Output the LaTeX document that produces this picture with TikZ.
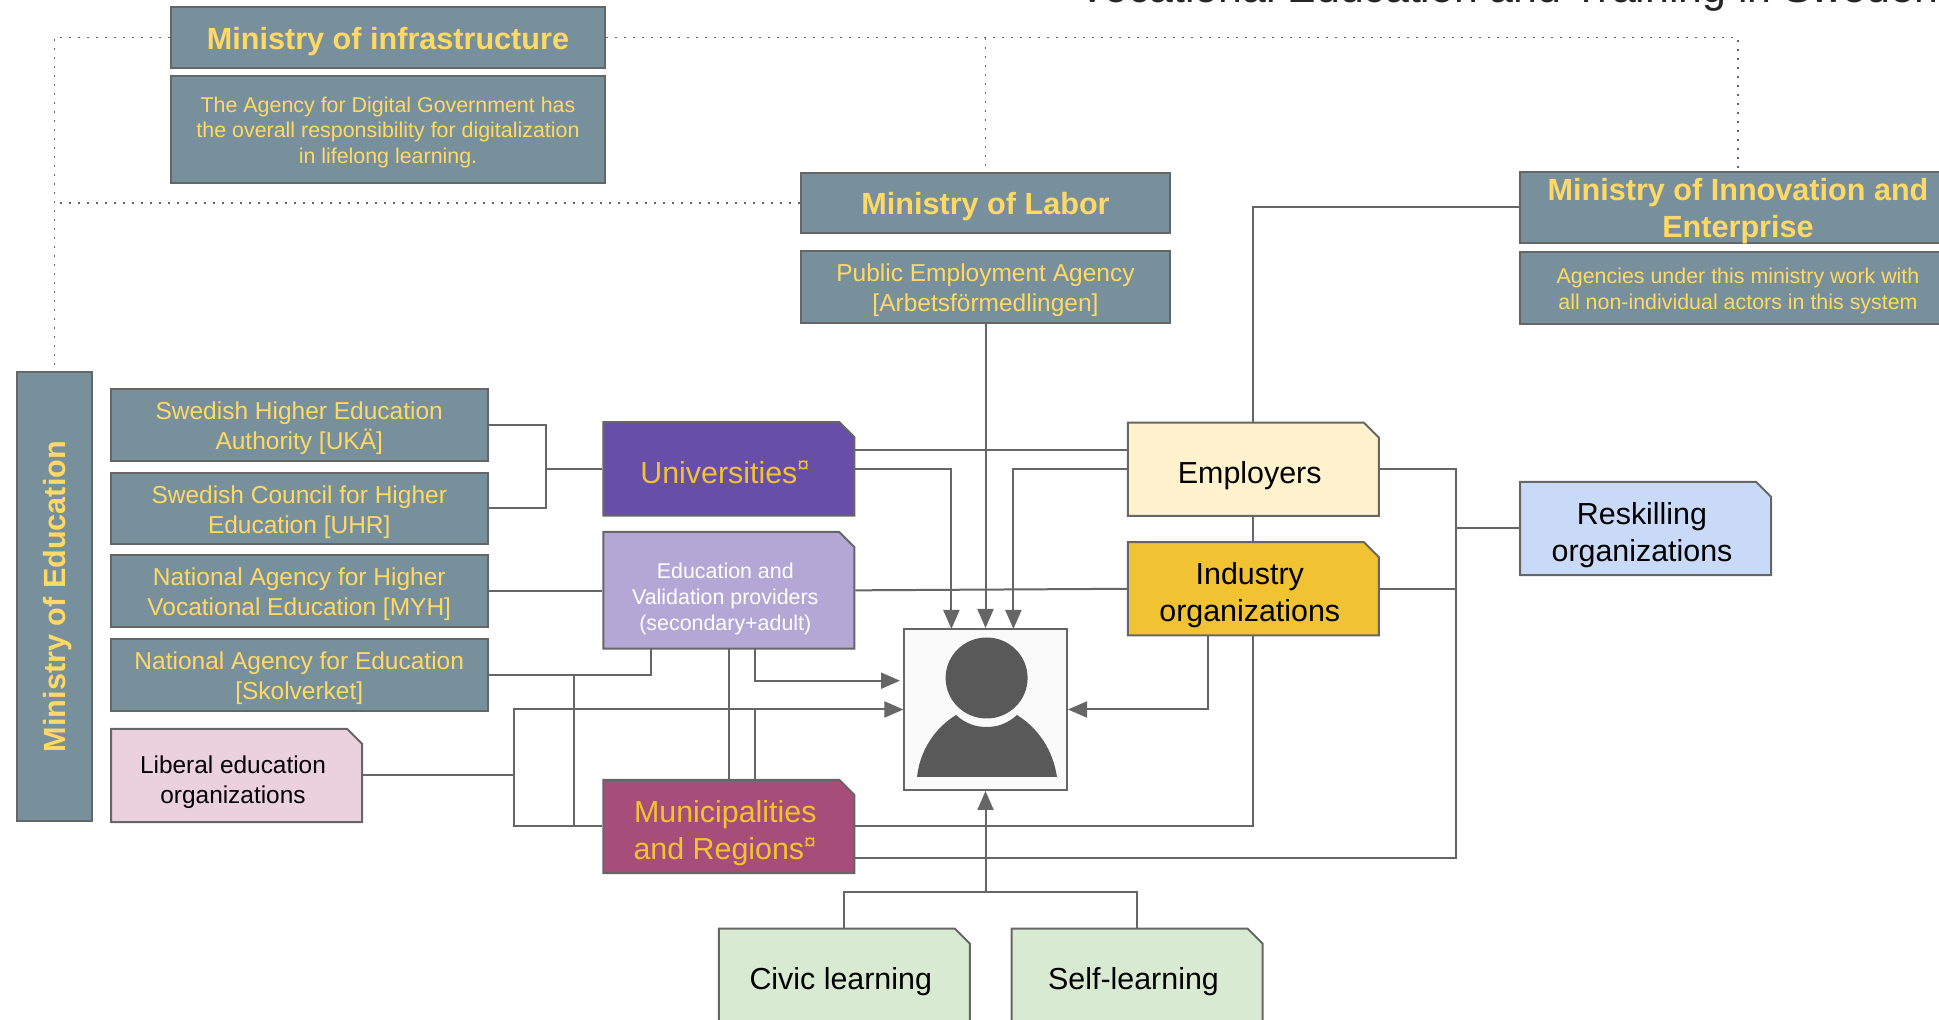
\documentclass[tikz,border=0pt]{standalone}
\usepackage{fontspec}
\setmainfont{Liberation Sans}
\usepackage{color}
\usetikzlibrary{arrows.meta, shapes.misc}

\definecolor{slate}{HTML}{78909C}
\definecolor{butter}{HTML}{FFD966}
\definecolor{wiregray}{HTML}{666666}
\definecolor{iconfill}{HTML}{595959}
\definecolor{unipurple}{HTML}{674EA7}
\definecolor{edupurple}{HTML}{B4A7D6}
\definecolor{munired}{HTML}{A64D79}
\definecolor{goldtext}{HTML}{F1C232}
\definecolor{employcol}{HTML}{FFF2CC}
\definecolor{reskillcol}{HTML}{C9DAF8}
\definecolor{learncol}{HTML}{D9EAD3}
\definecolor{liberalcol}{HTML}{EAD1DC}

% lines pushed down inside the box, box size comes from minimum width/height only
\newcommand{\boxtext}[2][1.75pt]{\raisebox{\dimexpr-.25em-#1\relax}[0pt][0pt]{\begin{tabular}{@{}c@{}}#2\end{tabular}}}
\newcommand{\foldtext}[2][3.25pt]{\boxtext[#1]{#2}\hspace*{3.5pt}}

\tikzset{
    govbox/.style={draw=wiregray, line width=1pt, fill=slate, text=butter, inner sep=0pt},
    ministry/.style={govbox, font=\fontsize{15.3}{18.5}\bfseries\selectfont},
    agency/.style={govbox, font=\fontsize{12.25}{15}\selectfont},
    smallagency/.style={govbox, font=\fontsize{10.7}{12.8}\selectfont},
    foldbox/.style={draw=wiregray, line width=1pt, inner sep=0pt, chamfered rectangle,
        chamfered rectangle corners=north east, chamfered rectangle xsep=7.5pt, chamfered rectangle ysep=7.5pt,
        minimum width=125.5pt, minimum height=46.7pt, font=\fontsize{15.2}{18.7}\selectfont},
    wire/.style={draw=wiregray, line width=1pt},
    dotline/.style={draw=wiregray, line width=0.6pt, dash pattern=on 1pt off 3.5pt},
    arrowwire/.style={wire, -{Triangle[length=9.5pt, width=8pt]}, wiregray},
}

\begin{document}
\begin{tikzpicture}[x=0.5pt, y=-0.5pt]
    \useasboundingbox (0,0) rectangle (1939,1020);
    \clip (0,0) rectangle (1939,1020);

    \node[anchor=base west, inner sep=0pt, text=black!85, font=\fontsize{21.4}{25}\selectfont] (title) at (1078,2.5) {Vocational Education and Training in Sweden};

    % ministries and agencies
    \node[ministry, minimum width=217pt, minimum height=30.25pt] (minInfra) at (388,37.7) {\boxtext{Ministry of infrastructure}};
    \node[smallagency, minimum width=217pt, minimum height=53.5pt] (agencyDigital) at (388,129.5) {\boxtext{The Agency for Digital Government has\\the overall responsibility for digitalization\\in lifelong learning.}};
    \node[ministry, minimum width=184.5pt, minimum height=30pt] (minLabor) at (985.5,203) {\boxtext{Ministry of Labor}};
    \node[agency, minimum width=184.5pt, minimum height=36pt] (pea) at (985.5,287) {\boxtext{Public Employment Agency\\{[Arbetsförmedlingen]}}};
    \node[ministry, minimum width=218pt, minimum height=35.5pt] (minInnov) at (1738,207.5) {\boxtext{Ministry of Innovation and\\Enterprise}};
    \node[smallagency, minimum width=218pt, minimum height=36pt] (agencyInnov) at (1738,288) {\boxtext{Agencies under this ministry work with\\all non-individual actors in this system}};
    \node[govbox, rotate=90, minimum width=224.5pt, minimum height=37.5pt, font=\fontsize{15.3}{18}\bfseries\selectfont] (minEdu) at (54.5,596.5) {\boxtext{Ministry of Education}};
    \node[agency, minimum width=188.25pt, minimum height=35.85pt] (uka) at (299.25,424.85) {\boxtext{Swedish Higher Education\\Authority [UKÄ]}};
    \node[agency, minimum width=188.25pt, minimum height=35.5pt] (uhr) at (299.25,508.5) {\boxtext{Swedish Council for Higher\\Education [UHR]}};
    \node[agency, minimum width=188.25pt, minimum height=36pt] (myh) at (299.25,591) {\boxtext{National Agency for Higher\\Vocational Education [MYH]}};
    \node[agency, minimum width=188.25pt, minimum height=36pt] (skol) at (299.25,675) {\boxtext{National Agency for Education\\{[Skolverket]}}};

    % providers and actors
    \node[foldbox, fill=liberalcol, font=\fontsize{12.2}{15}\selectfont] (liberal) at (236.5,775.5) {\foldtext{Liberal education\\organizations}};
    \node[foldbox, fill=unipurple, text=goldtext] (uni) at (728.8,468.85) {\foldtext{Universities\textsuperscript{¤}}};
    \node[foldbox, fill=edupurple, text=white, minimum height=58.35pt, font=\fontsize{10.7}{13}\selectfont] (edu) at (728.8,590.35) {\foldtext[4.4pt]{Education and\\Validation providers\\(secondary+adult)}};
    \node[foldbox, fill=munired, text=goldtext] (muni) at (728.8,826.5) {\foldtext{Municipalities\\and Regions\textsuperscript{¤}}};
    \node[foldbox, fill=employcol] (employers) at (1253.25,469.25) {\foldtext{Employers}};
    \node[foldbox, fill=goldtext] (industry) at (1253.25,588.8) {\foldtext{Industry\\organizations}};
    \node[foldbox, fill=reskillcol] (reskill) at (1645.5,528.5) {\foldtext{Reskilling\\organizations}};
    \node[foldbox, fill=learncol] (civic) at (844.25,975.25) {\foldtext{Civic learning}};
    \node[foldbox, fill=learncol] (self) at (1137,975.25) {\foldtext{Self-learning}};

    % learner in the middle
    \node[draw=wiregray, line width=1pt, fill=black!2, inner sep=0pt, minimum width=81.3pt, minimum height=80.5pt] (person) at (985.7,709.5) {};
    \fill[iconfill] (986.6,678) ellipse [x radius=41, y radius=40.5];
    \fill[iconfill] (917,777) .. controls (920,750) and (935,728) .. (956,715) .. controls (966,724) and (976,727) .. (986.6,727) .. controls (997,727) and (1007,724) .. (1017,715) .. controls (1038,728) and (1053,750) .. (1057,777) -- cycle;

    \coordinate (busTop) at (minLabor.north |- minInfra.east);
    \coordinate (juncUni) at (545.7,468.85);
    \coordinate (eduLeft) at (651,648.7);
    \coordinate (eduMid) at (729,648.7);
    \coordinate (eduRight) at (755,648.7);
    \coordinate (juncSkol) at (574,675);
    \coordinate (juncLib) at (514,775.5);
    \coordinate (juncMuni) at (755,709.5);
    \coordinate (personLeft) at (900,680.7);
    \coordinate (personA) at (951.4,629);
    \coordinate (personB) at (1013.4,629);
    \coordinate (uniHigh) at (854.6,450);
    \coordinate (muniLow) at (854.6,858.5);
    \coordinate (rightLow) at (1456,858.5);
    \coordinate (indLeft) at (1208,635.6);
    \coordinate (busLearn) at (985.5,892);

    % dotted ministry links
    \draw[dotline] (minInfra.west) -| (minEdu.east);
    \draw[dotline] (minInfra.east) -| (minInnov.north);
    \draw[dotline] (busTop) -- (minLabor.north);
    \draw[dotline] (minLabor.west) -- (minLabor.west -| minEdu.east);

    % solid links
    \draw[wire] (uka.east) -| (juncUni);
    \draw[wire] (uhr.east) -| (juncUni);
    \draw[wire] (juncUni) -- (uni.west);
    \draw[wire] (myh.east) -- (myh.east -| edu.west);
    \draw[wire] (skol.east) -| (eduLeft);
    \draw[wire] (juncSkol) |- (muni.west);
    \draw[wire] (liberal.east) -- (juncLib);
    \draw[wire] (juncLib) |- (muni.west);
    \draw[wire] (eduMid) -- (eduMid |- muni.north);
    \draw[wire] (juncMuni) -- (juncMuni |- muni.north);
    \draw[wire] (uniHigh) -- (uniHigh -| employers.west);
    \draw[wire] (minInnov.west) -| (employers.north);
    \draw[wire] (employers.south) -- (industry.north);
    \draw[wire] (edu.east) -- (industry.west);
    \draw[wire] (industry.south) |- (muni.east);
    \draw[wire] (employers.east) -| (rightLow) -- (muniLow);
    \draw[wire] (industry.east) -- (industry.east -| rightLow);
    \draw[wire] (reskill.west) -- (reskill.west -| rightLow);
    \draw[wire] (civic.north) |- (busLearn);
    \draw[wire] (self.north) |- (busLearn);

    % arrows into the learner
    \draw[arrowwire] (juncLib) |- (person.west);
    \draw[arrowwire] (eduRight) |- (personLeft);
    \draw[arrowwire] (uni.east) -| (personA);
    \draw[arrowwire] (pea.south) -- (pea.south |- person.north);
    \draw[arrowwire] (employers.west) -| (personB);
    \draw[arrowwire] (indLeft) |- (person.east);
    \draw[arrowwire] (busLearn) -- (busLearn |- person.south);
\end{tikzpicture}
\end{document}
